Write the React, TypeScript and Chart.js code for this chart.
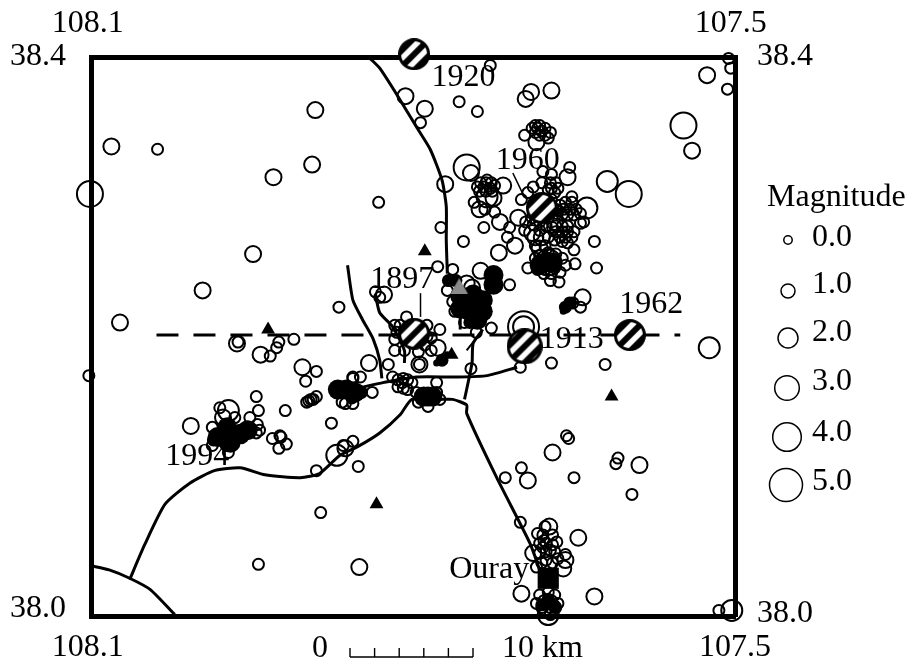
import React, { useEffect, useRef } from "react";
import { Chart, registerables } from "chart.js";

Chart.register(...registerables);

type P = number[];

const lonTicksBottom = [108.103, 107.5];
const lonTicksTop = [108.103, 107.504];
const latTicksLeft = [38.4, 38.005];
const latTicksRight = [38.4, 38.002];

const m0: P[] = [
[107.728,38.394],[107.793,38.353],[107.757,38.368],[107.740,38.361],
[107.686,38.351],[107.682,38.351],[107.677,38.349],[107.686,38.346],[107.682,38.344],[107.677,38.344],[107.672,38.346],[107.684,38.349],[107.680,38.347],[107.689,38.349],[107.674,38.342],[107.696,38.344],
[107.832,38.296],[107.737,38.310],[107.732,38.310],[107.727,38.310],[107.740,38.307],[107.734,38.307],[107.728,38.306],[107.724,38.308],[107.738,38.304],[107.732,38.304],[107.726,38.304],[107.731,38.312],
[107.743,38.296],[107.733,38.291],[107.724,38.289],[107.734,38.278],[107.774,38.278],[107.710,38.278],[107.712,38.271],[107.753,38.268],[107.777,38.250],[107.763,38.248],[107.710,38.237],[107.768,38.233],[107.763,38.225],[107.761,38.218],[107.752,38.210],[107.727,38.206],[107.741,38.203],
[107.835,38.232],[107.831,38.228],[107.775,38.205],[107.806,38.214],[107.817,38.208],
[107.654,38.321],[107.679,38.318],[107.671,38.316],[107.688,38.307],[107.680,38.310],[107.672,38.310],[107.667,38.310],[107.671,38.306],[107.665,38.306],[107.674,38.305],[107.668,38.303],[107.652,38.300],
[107.663,38.294],[107.658,38.296],[107.652,38.296],[107.665,38.290],[107.660,38.291],[107.654,38.291],[107.648,38.291],[107.661,38.287],[107.656,38.287],[107.650,38.287],[107.644,38.288],[107.644,38.281],[107.641,38.282],
[107.667,38.279],[107.661,38.279],[107.656,38.279],[107.667,38.275],[107.661,38.275],[107.656,38.275],[107.650,38.275],[107.663,38.271],[107.658,38.271],[107.652,38.271],
[107.682,38.276],[107.676,38.279],[107.695,38.282],[107.666,38.288],[107.672,38.291],[107.680,38.291],[107.688,38.280],[107.656,38.267],[107.661,38.268],[107.650,38.262],[107.631,38.268],[107.649,38.252],[107.629,38.249],
[107.693,38.249],[107.672,38.240],[107.664,38.239],[107.686,38.256],[107.682,38.258],[107.674,38.260],[107.667,38.259],[107.661,38.256],[107.658,38.251],[107.663,38.246],[107.671,38.245],[107.678,38.245],[107.684,38.248],[107.644,38.221],[107.651,38.224],
[108.102,38.172],[107.963,38.196],[107.911,38.198],[107.925,38.196],[107.927,38.192],[107.933,38.186],[107.890,38.175],[107.900,38.168],[107.869,38.221],[107.946,38.157],[107.944,38.147],[107.919,38.147],
[107.895,38.155],[107.897,38.154],[107.899,38.153],[107.893,38.155],[107.890,38.157],[107.876,38.138],[107.931,38.127],[107.924,38.129],[107.923,38.128],[107.918,38.123],[107.925,38.120],[107.987,38.135],[107.980,38.149],[107.966,38.142],
[107.945,38.137],[107.943,38.133],[107.946,38.131],[107.986,38.126],[107.987,38.122],[107.972,38.117],[107.952,38.142],[107.856,38.170],[107.866,38.153],[107.856,38.152],[107.856,38.125],[107.865,38.122],[107.890,38.104],[107.851,38.107],
[107.787,38.200],[107.823,38.180],[107.746,38.177],[107.671,38.181],[107.621,38.180],[107.700,38.178],[107.794,38.180],
[107.819,38.171],[107.814,38.169],[107.809,38.170],[107.805,38.169],[107.814,38.164],[107.809,38.163],[107.805,38.162],[107.801,38.167],[107.810,38.167],
[107.778,38.167],[107.838,38.160],[107.849,38.171],[107.856,38.171],[107.863,38.152],[107.795,38.153],[107.778,38.160],[107.786,38.150],[107.775,38.155],[107.797,38.160],
[107.657,38.129],[107.655,38.127],[107.609,38.113],[107.611,38.109],[107.699,38.106],[107.714,38.099],[107.650,38.099],[107.596,38.087],
[107.700,38.067],[107.677,38.064],[107.684,38.059],[107.679,38.058],[107.670,38.058],[107.666,38.053],[107.682,38.052],[107.676,38.052],[107.670,38.051],[107.676,38.046],[107.682,38.045],[107.668,38.046],[107.658,38.044],[107.685,38.035],[107.676,38.040],[107.670,38.038],[107.680,38.038],
[107.682,38.015],[107.674,38.017],[107.668,38.015],[107.685,38.009],[107.678,38.011],[107.671,38.011],[107.665,38.009],[107.680,38.006],[107.672,38.006],[107.667,38.006],[107.677,38.003],[107.672,38.001],
[107.515,38.004],[108.038,38.334],[107.506,38.399],[107.504,38.392],[107.507,38.377],[107.944,38.037],[107.886,38.074],
[107.812,38.208],[107.817,38.198],[107.787,38.208],[107.808,38.190],[107.789,38.194],[107.783,38.199],[107.815,38.203],[107.783,38.190],[107.795,38.189],[107.817,38.190],
[107.699,38.298],[107.693,38.303],[107.671,38.298],[107.667,38.291],[107.674,38.285],[107.682,38.282],[107.689,38.285],[107.696,38.276],[107.670,38.278],[107.674,38.271],[107.686,38.265],[107.677,38.265],[107.668,38.269],
[107.682,38.254],[107.674,38.256],[107.668,38.249],[107.677,38.248],
[107.678,38.054],[107.672,38.047],[107.679,38.049],[107.665,38.041],
];

const m1: P[] = [
[107.807,38.372],[107.789,38.363],[107.690,38.375],[107.695,38.370],[107.671,38.376],[107.685,38.339],[107.746,38.317],[107.770,38.309],[107.716,38.308],[107.725,38.299],[107.738,38.291],[107.719,38.282],[107.705,38.265],[107.720,38.260],[107.737,38.247],[107.750,38.238],[107.745,38.235],[107.827,38.230],
[107.656,38.314],[107.702,38.285],[107.689,38.274],[107.680,38.271],[107.686,38.271],[107.642,38.228],[107.996,38.233],[108.073,38.210],[107.964,38.195],[107.942,38.187],[107.903,38.178],[108.007,38.136],[107.977,38.142],[107.863,38.120],
[107.777,38.192],[107.794,38.180],[107.841,38.181],[107.670,38.117],[107.589,38.108],[107.693,38.097],[107.673,38.064],[107.688,38.045],[107.660,38.034],[107.658,38.040],[107.646,38.056],[107.699,38.016],[107.631,38.014],
[108.081,38.336],[107.930,38.314],[107.894,38.323],[107.891,38.362],[107.949,38.259],[107.540,38.333],[107.526,38.387],[107.850,38.035],
[107.668,38.282],[107.682,38.263],
];

const m2: P[] = [
[107.731,38.300],[107.638,38.292],[107.619,38.311],[107.972,38.147],[107.871,38.115],[107.674,38.001],[107.503,38.004],[107.524,38.192],[107.697,38.207],
];

const m3: P[] = [[107.750,38.321],[107.599,38.302],[108.101,38.302],[107.548,38.351],[107.674,38.253]];
const m4: P[] = [[107.697,38.207]];

const denseLarge: P[] = [
[107.969,38.130],[107.978,38.128],[107.854,38.160],[107.740,38.226],[107.747,38.218],[107.752,38.226],[107.786,38.157],[107.677,38.253],[107.670,38.253],[107.735,38.218],
[107.973,38.135],[107.961,38.130],[107.970,38.124],[107.954,38.133],[107.982,38.128],
[107.756,38.229],[107.744,38.230],[107.735,38.226],[107.756,38.220],[107.740,38.212],
[107.870,38.162],[107.862,38.162],[107.790,38.157],[107.782,38.157],
[107.725,38.244],[107.725,38.237],[107.682,38.251],
];
const denseMedium: P[] = [
[107.961,38.133],[107.974,38.122],[107.954,38.135],[107.868,38.162],[107.862,38.160],[107.857,38.156],[107.726,38.243],[107.725,38.237],[107.767,38.240],[107.760,38.240],[107.740,38.210],[107.747,38.210],[107.744,38.232],[107.756,38.232],[107.658,38.221],[107.654,38.224],[107.848,38.160],[107.773,38.183],
[107.674,38.012],[107.680,38.008],[107.668,38.007],
];
const denseSmall: P[] = [
[107.983,38.128],[107.948,38.135],[107.660,38.218],[107.778,38.181],[107.768,38.187],[107.676,38.013],[107.670,38.008],[107.677,38.008],
];

const historic: P[] = [[107.799,38.402],[107.680,38.292],[107.799,38.202],[107.696,38.193],[107.598,38.201]];
const stations: P[] = [[107.789,38.261],[107.935,38.205],[107.764,38.187],[107.615,38.157],[107.834,38.080]];
const grayStation: P[] = [[107.757,38.236]];
const town: P[] = [[107.674,38.027]];

const faultNorth: P[] = [[107.840,38.399],[107.831,38.392],[107.815,38.373],[107.796,38.349],[107.784,38.334],[107.773,38.312],[107.769,38.293],[107.769,38.269],[107.768,38.245]];
const riverMid: P[] = [[107.868,38.160],[107.840,38.165],[107.828,38.167],[107.797,38.171],[107.759,38.171],[107.731,38.172],[107.703,38.178]];
const southCurve: P[] = [[108.064,38.026],[108.050,38.051],[108.031,38.080],[108.008,38.095],[107.985,38.104],[107.961,38.106],[107.938,38.101],[107.905,38.099],[107.887,38.102],[107.868,38.115],[107.852,38.121],[107.831,38.131],[107.812,38.144],[107.801,38.155],[107.775,38.155],[107.763,38.155],[107.750,38.151],[107.750,38.145],[107.722,38.099],[107.691,38.052],[107.682,38.033]];
const branchA: P[] = [[107.752,38.155],[107.745,38.181],[107.744,38.195],[107.735,38.205]];
const branchB: P[] = [[107.750,38.190],[107.740,38.200]];
const westA: P[] = [[107.861,38.251],[107.856,38.226],[107.847,38.212],[107.837,38.198],[107.831,38.183],[107.829,38.170]];
const westB: P[] = [[107.835,38.230],[107.831,38.217],[107.819,38.207],[107.808,38.190],[107.808,38.181]];
const corner: P[] = [[108.100,38.036],[108.083,38.033],[108.064,38.027],[108.045,38.019],[108.022,38.001]];
const leader1897: P[] = [[107.793,38.231],[107.793,38.214]];
const leader1960: P[] = [[107.707,38.317],[107.697,38.301]];
const stub: P[] = [[107.756,38.221],[107.756,38.205]];
const section: P[] = [[108.039,38.201],[107.551,38.201]];

const yearNames = ["1920", "1960", "1897", "1962", "1913", "1994", "Ouray"];
const yearSpots: P[] = [[107.753,38.385],[107.693,38.326],[107.810,38.241],[107.578,38.223],[107.652,38.198],[108.001,38.114],[107.729,38.033]];

const magnitudes = ["0.0", "1.0", "2.0", "3.0", "4.0", "5.0"];
const FONT = '32px "Liberation Serif"';

const pts = (a: P[]) => a.map(([x, y]) => ({ x, y }));

function hatch(d: number) {
  const c = document.createElement("canvas");
  c.width = d; c.height = d;
  const g = c.getContext("2d")!;
  const r = d / 2;
  g.save();
  g.beginPath(); g.arc(r, r, r - 1, 0, Math.PI * 2); g.clip();
  g.fillStyle = "#fff"; g.fillRect(0, 0, d, d);
  g.translate(r, r); g.rotate(-Math.PI / 4);
  g.fillStyle = "#000";
  for (let i = -3; i <= 3; i++) g.fillRect(-d, i * 11.5 - 3, 2 * d, 6);
  g.restore();
  g.beginPath(); g.arc(r, r, r - 1.5, 0, Math.PI * 2);
  g.lineWidth = 3; g.strokeStyle = "#000"; g.stroke();
  return c;
}

function triHatch() {
  const c = document.createElement("canvas");
  c.width = 18; c.height = 16;
  const g = c.getContext("2d")!;
  g.fillStyle = "#8a8a8a";
  g.beginPath(); g.moveTo(9, 0); g.lineTo(18, 16); g.lineTo(0, 16); g.closePath(); g.fill();
  return c;
}

const overlay = {
  id: "mapText",
  afterDatasetsDraw(chart: any) {
    const g = chart.ctx;
    const { x, y } = chart.scales;
    g.save();
    g.fillStyle = "#000";
    g.strokeStyle = "#000";
    g.font = FONT;
    g.textAlign = "center";
    g.textBaseline = "middle";
    yearNames.forEach((t, i) => {
      g.fillText(t, x.getPixelForValue(yearSpots[i][0]), y.getPixelForValue(yearSpots[i][1]));
    });
    g.fillText("0", 320, 649);
    g.textAlign = "left";
    g.fillText("10 km", 502, 649);
    g.fillText("Magnitude", 767, 198);
    const rows = [238, 285, 333, 382, 433, 482];
    const dots = [[788, 240, 4.2], [788, 291, 7], [788, 338, 10], [787, 388, 12.3], [787, 437, 14.3], [786, 485, 16.5]];
    magnitudes.forEach((t, i) => {
      g.fillText(t, 812, rows[i]);
      g.beginPath();
      g.arc(dots[i][0], dots[i][1], dots[i][2], 0, Math.PI * 2);
      g.lineWidth = 1.5;
      g.stroke();
    });
    g.lineWidth = 1.4;
    g.beginPath();
    g.moveTo(350, 657); g.lineTo(473, 657);
    for (let i = 0; i <= 5; i++) { g.moveTo(350 + i * 24.6, 657); g.lineTo(350 + i * 24.6, 648); }
    g.stroke();
    g.restore();
  },
};

const circle = (a: P[], r: number, order: number) => ({
  data: pts(a), pointRadius: r, pointBorderWidth: 2, pointBorderColor: "#000",
  pointBackgroundColor: "transparent", showLine: false, clip: false as any, order,
});
const solid = (a: P[], r: number) => ({
  data: pts(a), pointRadius: r, pointBorderWidth: 0, pointBackgroundColor: "#000",
  showLine: false, clip: false as any, order: 5,
});
const line = (a: P[], w = 3, dash: number[] = []) => ({
  data: pts(a), showLine: true, pointRadius: 0, borderColor: "#000", borderWidth: w,
  borderDash: dash, tension: 0.2, order: 20, clip: false as any,
});

export default function App() {
  const ref = useRef<HTMLCanvasElement>(null);
  useEffect(() => {
    const big = hatch(36);
    const mid = hatch(32);
    const axisBase = (pos: string, size: number, isX: boolean, pad: number, values: number[]) => ({
      type: "linear",
      position: pos,
      min: isX ? 107.5 : 38.0,
      max: isX ? 108.1 : 38.4,
      reverse: isX,
      afterBuildTicks: (s: any) => { s.ticks = values.map((value) => ({ value })); },
      afterFit: (s: any) => { if (isX) s.height = size; else s.width = size; },
      grid: { drawOnChartArea: false, drawTicks: false },
      border: { display: true, color: "#000", width: 5 },
      ticks: {
        color: "#000", font: { family: "Liberation Serif", size: 32 }, padding: pad,
        maxRotation: 0, autoSkip: false, callback: (v: any) => Number(v).toFixed(1),
      },
    });
    const chart = new Chart(ref.current!, {
      type: "scatter",
      data: {
        datasets: [
          { data: pts(historic), pointStyle: [mid, mid, mid, big, mid] as any, showLine: false, clip: false as any, order: 0 },
          { data: pts(town), pointStyle: "rect", pointRadius: 15, pointBackgroundColor: "#000", pointBorderWidth: 0, showLine: false, order: 1 },
          { data: pts(stations), pointStyle: "triangle", pointRadius: 8, pointBackgroundColor: "#000", pointBorderWidth: 0, showLine: false, order: 1 },
          { data: pts(grayStation), pointStyle: triHatch() as any, showLine: false, order: 1 },
          solid(denseLarge, 10), solid(denseMedium, 6.5), solid(denseSmall, 3.5),
          circle(m0, 5.5, 10), circle(m1, 8, 10), circle(m2, 10.5, 10), circle(m3, 13, 10), circle(m4, 15.5, 10),
          line(faultNorth), line(riverMid), line(southCurve), line(branchA), line(branchB, 2),
          line(westA), line(westB), line(corner), line(leader1897, 1.5), line(leader1960, 1.5),
          line(stub), { ...line(section, 3, [22, 15]), tension: 0 },
        ] as any,
      },
      options: {
        responsive: false,
        animation: false,
        events: [],
        layout: { padding: 0 },
        plugins: { legend: { display: false }, tooltip: { enabled: false } },
        scales: {
          x: axisBase("bottom", 50, true, 12, lonTicksBottom),
          xTop: axisBase("top", 57, true, 14, lonTicksTop),
          y: axisBase("left", 91, false, 25, latTicksLeft),
          yRight: axisBase("right", 181, false, 22, latTicksRight),
        } as any,
      },
      plugins: [overlay],
    });
    return () => chart.destroy();
  }, []);
  return (
    <div style={{ position: "absolute", left: 0, top: 0 }}>
      <canvas ref={ref} width={916} height={666} style={{ display: "block" }} />
    </div>
  );
}
